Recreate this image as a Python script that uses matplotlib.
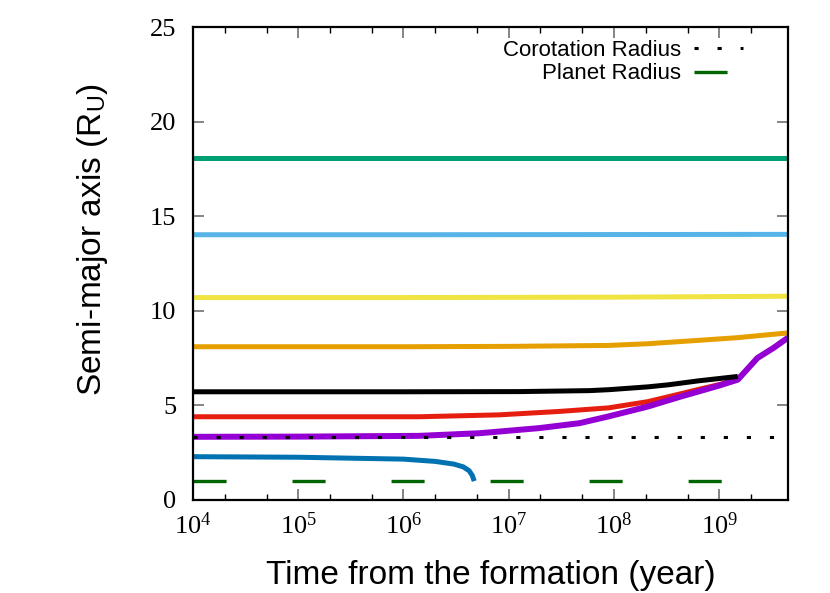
import matplotlib
matplotlib.use("Agg")
import matplotlib.pyplot as plt
import numpy as np

plt.rcParams['mathtext.fontset'] = 'custom'
plt.rcParams['mathtext.rm'] = 'Liberation Serif'
plt.rcParams['mathtext.it'] = 'Liberation Serif:italic'
plt.rcParams['mathtext.bf'] = 'Liberation Serif:bold'
plt.rcParams['mathtext.sf'] = 'Liberation Sans'
plt.rcParams['lines.scale_dashes'] = False

# time in years, semi-major axis in Uranus radii
t_flat = [1e4, 1e6, 1e8, 4.5e9]
a_teal = [18.1, 18.1, 18.1, 18.1]
a_sky = [14.02, 14.02, 14.03, 14.04]
a_yellow = [10.7, 10.7, 10.72, 10.77]

t_orange = [1e4, 1e6, 1e7, 8.9e7, 2.1e8, 6.4e8, 1.5e9, 2.3e9, 4.5e9]
a_orange = [8.1, 8.1, 8.12, 8.17, 8.26, 8.44, 8.58, 8.68, 8.83]

t_black = [1e4, 1e6, 1.26e7, 5.8e7, 8.9e7, 2.1e8, 3.3e8, 6.4e8, 1.5e9]
a_black = [5.72, 5.72, 5.73, 5.78, 5.83, 5.98, 6.09, 6.3, 6.53]

t_red = [1e4, 1.4e6, 8.1e6, 3e7, 8.9e7, 2.1e8, 4.2e8, 6.4e8, 1e9, 1.5e9]
a_red = [4.4, 4.4, 4.5, 4.68, 4.87, 5.2, 5.6, 5.85, 6.1, 6.39]

t_purple = [1e4, 1e5, 1.4e6, 5.3e6, 1.95e7, 4.7e7, 8.9e7, 2.1e8, 4.2e8,
            6.4e8, 1e9, 1.5e9, 2.3e9, 3.3e9, 4.5e9]
a_purple = [3.34, 3.35, 3.39, 3.53, 3.8, 4.06, 4.42, 4.94, 5.45,
            5.74, 6.05, 6.36, 7.5, 8.05, 8.58]

t_blue = [1e4, 1e5, 1e6, 2e6, 3e6, 3.7e6, 4.2e6, 4.5e6, 4.7e6]
a_blue = [2.29, 2.26, 2.16, 2.04, 1.9, 1.75, 1.55, 1.3, 1.0]

t_line = [1e4, 4.5e9]
corotation = [3.32, 3.32]
planet = [1.0, 1.0]

fig = plt.figure(figsize=(8.3, 5.93), dpi=100)
ax = fig.add_axes([193/830, 93/593, 595/830, 473/593])

ax.plot(t_flat, a_teal, color='#009e73', lw=3.6, solid_capstyle='butt')
ax.plot(t_flat, a_sky, color='#56b4e9', lw=3.6, solid_capstyle='butt')
ax.plot(t_flat, a_yellow, color='#f0e442', lw=3.6, solid_capstyle='butt')
ax.plot(t_orange, a_orange, color='#e69f00', lw=3.6, solid_capstyle='butt')
ax.plot(t_red, a_red, color='#e51e10', lw=3.6, solid_capstyle='butt')
ax.plot(t_purple, a_purple, color='#9400d3', lw=4.3, solid_capstyle='butt')
ax.plot(t_black, a_black, color='black', lw=3.6, solid_capstyle='butt')
ax.plot(t_blue, a_blue, color='#0072b2', lw=3.6, solid_capstyle='butt')

ax.plot(t_line, corotation, color='black', lw=2.2, linestyle=(0, (3.0, 13.6)),
        label='Corotation Radius')
ax.plot(t_line, planet, color='#006400', lw=2.4, linestyle=(0, (23.8, 47.5)),
        label='Planet Radius')

ax.set_xscale('log')
ax.set_xlim(1e4, 4.5e9)
ax.set_ylim(0, 25)

ax.set_xticks([1e4, 1e5, 1e6, 1e7, 1e8, 1e9])
ax.set_xticklabels([r'$\mathregular{10^{%d}}$' % k for k in range(4, 10)])
ax.xaxis.set_minor_locator(matplotlib.ticker.LogLocator(base=10, subs=(2.0, 5.0), numticks=20))
ax.xaxis.set_minor_formatter(matplotlib.ticker.NullFormatter())
ax.set_yticks([0, 5, 10, 15, 20, 25])

ax.tick_params(which='major', direction='in', length=8, width=1.2, color='#707070',
               top=True, right=True, labelsize=19, pad=9)
ax.tick_params(which='major', axis='y', pad=12)
ax.tick_params(which='minor', direction='in', length=4, width=1.0, color='black',
               top=True, right=True)
for lab in ax.get_xticklabels() + ax.get_yticklabels():
    lab.set_fontfamily('Liberation Serif')

for sp in ax.spines.values():
    sp.set_linewidth(1.6)

ax.set_xlabel('Time from the formation (year)', fontsize=24,
              family='Liberation Sans', labelpad=15)
ax.set_ylabel(r'Semi-major axis (R$_{\mathsf{U}}$)', fontsize=24,
              family='Liberation Sans')
ax.yaxis.set_label_coords(-0.14, 0.55)

ax.legend(loc='upper right', bbox_to_anchor=(0.951, 1.005), frameon=False,
          markerfirst=False, handlelength=2.2, handletextpad=0.6,
          labelspacing=0.1, borderaxespad=0.3,
          prop={'family': 'Liberation Sans', 'size': 16})

fig.savefig('out.png', dpi=100)
